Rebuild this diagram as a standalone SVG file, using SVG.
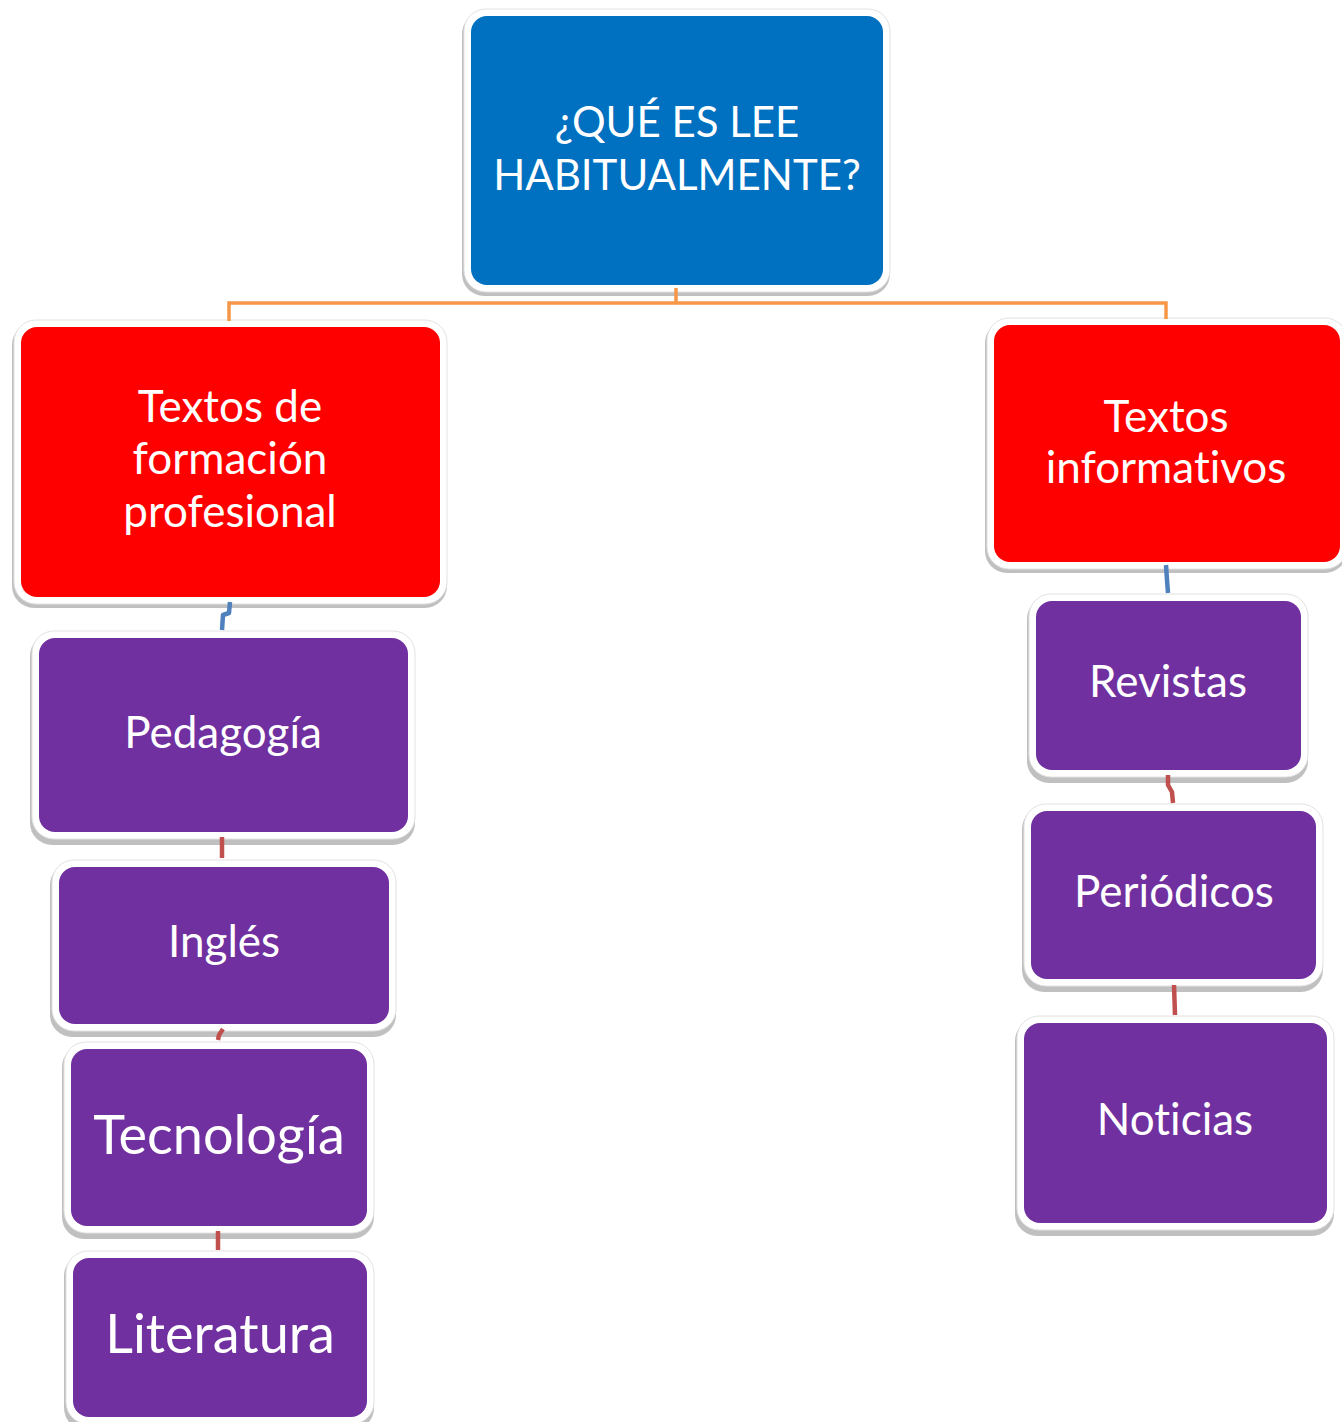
<svg xmlns="http://www.w3.org/2000/svg" width="1342" height="1422" viewBox="0 0 1342 1422">
<style>
.shadow{fill:#8c8c8c;opacity:0.55}
.frame{fill:#ffffff;stroke:#e2e2e2;stroke-width:1}
.blue{fill:#0070C0}
.red{fill:#FF0000}
.purple{fill:#7030A0}
text{font-family:"Lato","Open Sans","Liberation Sans",sans-serif;fill:#ffffff;text-anchor:middle;font-variant-ligatures:none;font-feature-settings:"liga" 0}
.t42{font-size:42px}
.t44{font-size:44px}
.t54{font-size:54px}
.conn-o{fill:none;stroke:#F79646;stroke-width:3.5}
.conn-b{fill:none;stroke:#4F81BD;stroke-width:4.5;stroke-linejoin:round}
.conn-r{fill:none;stroke:#C0504D;stroke-width:4.5;stroke-linejoin:round}
</style>
<rect width="1342" height="1422" fill="#ffffff"/>
<g id="n-top">
<rect class="shadow" x="462" y="12" width="428" height="284" rx="22"/>
<rect class="frame" x="464" y="9" width="426" height="283" rx="22"/>
<rect class="blue" x="471" y="16" width="412" height="269" rx="16"/>
<text class="t42" x="677" y="137">¿QUÉ ES LEE</text>
<text class="t42" x="677" y="190">HABITUALMENTE?</text>
</g>
<g id="n-formacion">
<rect class="shadow" x="12" y="323" width="435" height="285" rx="22"/>
<rect class="frame" x="14" y="320" width="433" height="284" rx="22"/>
<rect class="red" x="21" y="327" width="419" height="270" rx="16"/>
<text class="t44" x="230" y="422">Textos de</text>
<text class="t44" x="230" y="474">formación</text>
<text class="t44" x="230" y="527">profesional</text>
</g>
<g id="n-informativos">
<rect class="shadow" x="985" y="321" width="362" height="252" rx="22"/>
<rect class="frame" x="987" y="318" width="360" height="251" rx="22"/>
<rect class="red" x="994" y="325" width="346" height="237" rx="16"/>
<text class="t44" x="1166" y="432">Textos</text>
<text class="t44" x="1166" y="483">informativos</text>
</g>
<g id="n-pedagogia">
<rect class="shadow" x="30" y="634" width="385" height="211" rx="22"/>
<rect class="frame" x="32" y="631" width="383" height="208" rx="22"/>
<rect class="purple" x="39" y="638" width="369" height="194" rx="16"/>
<text class="t44" x="223" y="748">Pedagogía</text>
</g>
<g id="n-ingles">
<rect class="shadow" x="50" y="863" width="346" height="174" rx="22"/>
<rect class="frame" x="52" y="860" width="344" height="171" rx="22"/>
<rect class="purple" x="59" y="867" width="330" height="157" rx="16"/>
<text class="t44" x="224" y="957">Inglés</text>
</g>
<g id="n-tecnologia">
<rect class="shadow" x="62" y="1045" width="312" height="194" rx="22"/>
<rect class="frame" x="64" y="1042" width="310" height="191" rx="22"/>
<rect class="purple" x="71" y="1049" width="296" height="177" rx="16"/>
<text class="t54" x="219" y="1154">Tecnología</text>
</g>
<g id="n-literatura">
<rect class="shadow" x="64" y="1254" width="310" height="176" rx="22"/>
<rect class="frame" x="66" y="1251" width="308" height="173" rx="22"/>
<rect class="purple" x="73" y="1258" width="294" height="159" rx="16"/>
<text class="t54" x="220" y="1353">Literatura</text>
</g>
<g id="n-revistas">
<rect class="shadow" x="1027" y="597" width="281" height="186" rx="22"/>
<rect class="frame" x="1029" y="594" width="279" height="183" rx="22"/>
<rect class="purple" x="1036" y="601" width="265" height="169" rx="16"/>
<text class="t44" x="1168" y="697">Revistas</text>
</g>
<g id="n-periodicos">
<rect class="shadow" x="1022" y="807" width="301" height="185" rx="22"/>
<rect class="frame" x="1024" y="804" width="299" height="182" rx="22"/>
<rect class="purple" x="1031" y="811" width="285" height="168" rx="16"/>
<text class="t44" x="1174" y="907">Periódicos</text>
</g>
<g id="n-noticias">
<rect class="shadow" x="1015" y="1019" width="319" height="217" rx="22"/>
<rect class="frame" x="1017" y="1016" width="317" height="214" rx="22"/>
<rect class="purple" x="1024" y="1023" width="303" height="200" rx="16"/>
<text class="t44" x="1175" y="1135">Noticias</text>
</g>
<g id="connectors">
<polyline class="conn-o" points="676,288 676,303"/>
<polyline class="conn-o" points="229,321 229,303 1166,303 1166,319"/>
<polyline class="conn-b" points="230,602 229,613 223,615 222,630"/>
<polyline class="conn-b" points="1166,565 1167,580 1168,593"/>
<polyline class="conn-r" points="222,837 222,858"/>
<polyline class="conn-r" points="223,1029 219,1035 218,1040"/>
<polyline class="conn-r" points="218,1231 218,1250"/>
<polyline class="conn-r" points="1168,775 1168,785 1172,792 1173,803"/>
<polyline class="conn-r" points="1174,985 1175,1015"/>
</g>
</svg>
